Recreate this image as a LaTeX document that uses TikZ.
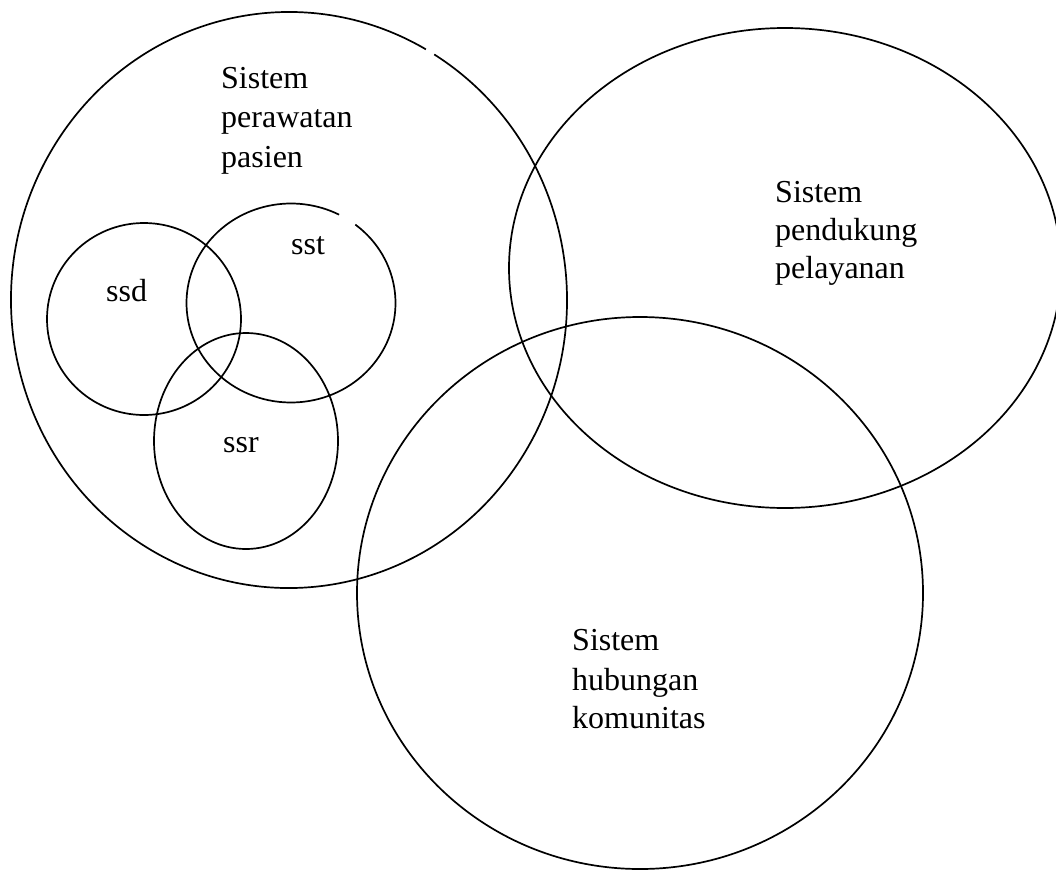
\documentclass[tikz,border=0pt]{standalone}
\usepackage{fontspec}
\setmainfont{Liberation Serif}
\begin{document}
\begin{tikzpicture}[x=1pt,y=-1pt,
  ring/.style={draw=black,line width=1.7pt},
  lbl/.style={font=\fontsize{32}{39}\selectfont,anchor=base west,inner sep=0pt}]
\useasboundingbox (0,0) rectangle (1056,870);
% big circle: Sistem perawatan pasien
\draw[ring] (289,300) ++(-58.5:278 and 288) arc[start angle=-58.5,end angle=299.5,x radius=278,y radius=288];
% right ellipse: Sistem pendukung pelayanan
\draw[ring] (785,268) ellipse[x radius=276,y radius=240];
% bottom circle: Sistem hubungan komunitas
\draw[ring] (640,593) ellipse[x radius=283,y radius=276];
% small circles
\draw[ring] (144,319) ellipse[x radius=97,y radius=96];
\draw[ring] (291,303) ++(-52:104.5 and 99.5) arc[start angle=-52,end angle=297.4,x radius=104.5,y radius=99.5];
\draw[ring] (246,441) ellipse[x radius=92,y radius=108];
% labels
\node[lbl] (pp1) at (221,88) {Sistem};
\node[lbl] (pp2) at (221,127) {perawatan};
\node[lbl] (pp3) at (221,167) {pasien};
\node[lbl] (pd1) at (775,202) {Sistem};
\node[lbl] (pd2) at (775,240) {pendukung};
\node[lbl] (pd3) at (775,278) {pelayanan};
\node[lbl] (hk1) at (572,650) {Sistem};
\node[lbl] (hk2) at (572,690) {hubungan};
\node[lbl] (hk3) at (572,728) {komunitas};
\node[lbl] (ssd) at (106,301) {ssd};
\node[lbl] (sst) at (291,254) {sst};
\node[lbl] (ssr) at (223,452) {ssr};
\end{tikzpicture}
\end{document}
